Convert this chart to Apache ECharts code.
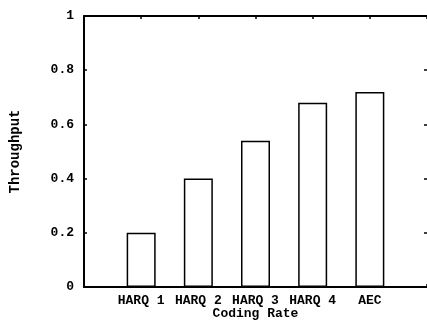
<!DOCTYPE html>
<html>
<head>
<meta charset="utf-8">
<script src="https://cdn.jsdelivr.net/npm/echarts@6/dist/echarts.min.js"></script>
<style>
  html, body { margin: 0; padding: 0; background: #fff; }
  #main { width: 427px; height: 320px; }
</style>
</head>
<body>
<div id="main"></div>
<script>
// values
const categories = ["HARQ 1", "HARQ 2", "HARQ 3", "HARQ 4", "AEC"];
const positions = [1, 2, 3, 4, 5];
const throughput = [0.2, 0.4, 0.54, 0.68, 0.72];

const font = "Liberation Mono";
const chart = echarts.init(document.getElementById("main"));

const axisLine = { show: true, onZero: false, lineStyle: { color: "#000", width: 2 } };
const tick = { show: true, inside: true, length: 3, lineStyle: { color: "#000", width: 1.5 } };

chart.setOption({
  animation: false,
  grid: { left: 84, top: 16, right: 0, bottom: 33, outerBoundsMode: "none", containLabel: false },
  xAxis: [
    {
      type: "value",
      min: 0,
      max: 6,
      interval: 1,
      position: "bottom",
      name: "Coding Rate",
      nameLocation: "middle",
      nameGap: 20,
      nameMoveOverlap: false,
      nameTextStyle: { fontFamily: font, fontWeight: "bold", fontSize: 13, color: "#000" },
      axisLine: axisLine,
      axisTick: tick,
      splitLine: { show: false },
      axisLabel: {
        margin: 7,
        fontFamily: font,
        fontWeight: "bold",
        fontSize: 13,
        color: "#000",
        formatter: v => categories[positions.indexOf(v)] || ""
      }
    },
    {
      type: "value",
      min: 0,
      max: 6,
      interval: 1,
      position: "top",
      axisLine: axisLine,
      axisTick: tick,
      splitLine: { show: false },
      axisLabel: { show: false }
    }
  ],
  yAxis: [
    {
      type: "value",
      min: 0,
      max: 1,
      interval: 0.2,
      position: "left",
      name: "Throughput",
      nameLocation: "middle",
      nameRotate: 90,
      nameGap: 62,
      nameMoveOverlap: false,
      nameTextStyle: { fontFamily: font, fontWeight: "bold", fontSize: 14, color: "#000" },
      axisLine: axisLine,
      axisTick: tick,
      splitLine: { show: false },
      axisLabel: {
        margin: 10,
        fontFamily: font,
        fontWeight: "bold",
        fontSize: 13,
        color: "#000",
        formatter: v => (v === 0 || v === 1) ? String(v) : v.toFixed(1)
      }
    },
    {
      type: "value",
      min: 0,
      max: 1,
      interval: 0.2,
      position: "right",
      axisLine: { show: false, onZero: false },
      axisTick: tick,
      splitLine: { show: false },
      axisLabel: { show: false }
    }
  ],
  series: [
    {
      type: "bar",
      xAxisIndex: 0,
      yAxisIndex: 0,
      barWidth: 29,
      data: positions.map((p, i) => [p, throughput[i]]),
      itemStyle: { color: "#fff", borderColor: "#000", borderWidth: 1.5 }
    }
  ]
});
</script>
</body>
</html>
